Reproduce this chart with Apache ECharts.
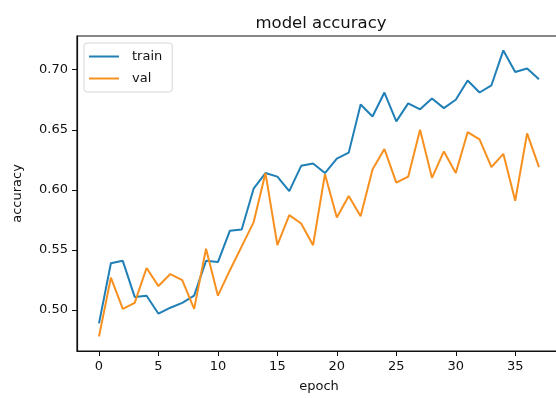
<!DOCTYPE html>
<html>
<head>
<meta charset="utf-8">
<script src="https://cdn.jsdelivr.net/npm/echarts@6/dist/echarts.min.js"></script>
<style>
  html, body { margin: 0; padding: 0; background: #fff; overflow: hidden; }
  #chart { width: 566px; height: 398px; }
</style>
</head>
<body>
<div id="chart"></div>
<script>
// Training history: accuracy per epoch
const epochs = Array.from({ length: 38 }, (_, i) => i);
const trainAcc = [0.489, 0.539, 0.541, 0.511, 0.512, 0.497, 0.502, 0.506, 0.512, 0.541,
                  0.540, 0.566, 0.567, 0.601, 0.614, 0.611, 0.599, 0.620, 0.622, 0.614,
                  0.626, 0.631, 0.671, 0.661, 0.681, 0.657, 0.672, 0.667, 0.676, 0.668,
                  0.675, 0.691, 0.681, 0.687, 0.716, 0.698, 0.701, 0.692];
const valAcc = [0.478, 0.527, 0.501, 0.506, 0.535, 0.520, 0.530, 0.525, 0.501, 0.551,
                0.512, 0.533, 0.553, 0.573, 0.614, 0.554, 0.579, 0.572, 0.554, 0.613,
                0.577, 0.595, 0.578, 0.617, 0.634, 0.606, 0.611, 0.650, 0.610, 0.632,
                0.614, 0.648, 0.642, 0.619, 0.630, 0.591, 0.647, 0.619];
const xTicks = [0, 5, 10, 15, 20, 25, 30, 35];
const yTicks = [0.50, 0.55, 0.60, 0.65, 0.70];

const FONT = 'DejaVu Sans';
const chart = echarts.init(document.getElementById('chart'), null, { renderer: 'canvas' });

chart.setOption({
  backgroundColor: '#fff',
  animation: false,
  title: {
    text: 'model accuracy',
    left: 316, top: 10, textAlign: 'center',
    textStyle: { fontFamily: FONT, fontSize: 16.5, fontWeight: 'normal', color: '#111' }
  },
  legend: {
    orient: 'vertical',
    left: 84, top: 43,
    padding: [7, 10, 7, 5],
    itemGap: 9,
    itemWidth: 30, itemHeight: 2,
    icon: 'rect',
    borderColor: '#d6d6d6', borderWidth: 1, borderRadius: 3,
    backgroundColor: 'rgba(255,255,255,0.8)',
    textStyle: { fontFamily: FONT, fontSize: 13, color: '#111', padding: [0, 0, 0, 8] },
    data: ['train', 'val']
  },
  grid: {
    left: 77, top: 36, right: 5, bottom: 45,
    show: true, borderColor: '#111', borderWidth: 1.2, backgroundColor: 'transparent'
  },
  xAxis: {
    type: 'value',
    min: -1.85, max: 38.85,
    name: 'epoch', nameLocation: 'middle', nameGap: 29,
    nameTextStyle: { fontFamily: FONT, fontSize: 13, color: '#111' },
    splitLine: { show: false },
    axisLine: { show: true, onZero: false, lineStyle: { color: '#111', width: 1.2 } },
    axisTick: { show: true, length: 5, customValues: xTicks, lineStyle: { color: '#111' } },
    axisLabel: {
      customValues: xTicks, margin: 9,
      fontFamily: FONT, fontSize: 13, color: '#111'
    }
  },
  yAxis: {
    type: 'value',
    min: 0.466, max: 0.728,
    name: 'accuracy', nameLocation: 'middle', nameGap: 53, nameRotate: 90,
    nameTextStyle: { fontFamily: FONT, fontSize: 13, color: '#111' },
    splitLine: { show: false },
    axisLine: { show: true, onZero: false, lineStyle: { color: '#111', width: 1.2 } },
    axisTick: { show: true, length: 5, customValues: yTicks, lineStyle: { color: '#111' } },
    axisLabel: {
      customValues: yTicks, margin: 9,
      fontFamily: FONT, fontSize: 13, color: '#111',
      formatter: v => v.toFixed(2)
    }
  },
  series: [
    {
      name: 'train', type: 'line',
      data: epochs.map((e, i) => [e, trainAcc[i]]),
      symbol: 'none',
      color: '#1f7fb6',
      lineStyle: { width: 2, color: '#1f7fb6' }
    },
    {
      name: 'val', type: 'line',
      data: epochs.map((e, i) => [e, valAcc[i]]),
      symbol: 'none',
      color: '#f7901e',
      lineStyle: { width: 2, color: '#f7901e' }
    }
  ]
});
</script>
</body>
</html>
